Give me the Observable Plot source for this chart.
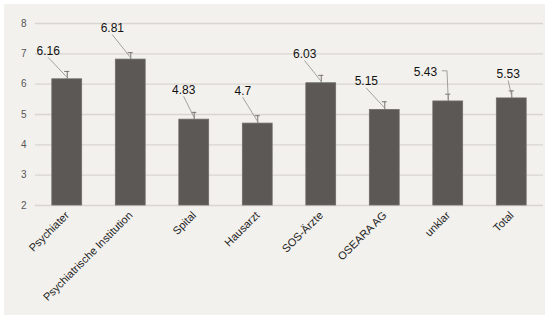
<!DOCTYPE html>
<html><head><meta charset="utf-8">
<script src="https://cdn.jsdelivr.net/npm/d3@7"></script>
<script src="https://cdn.jsdelivr.net/npm/@observablehq/plot@0.6"></script>
<style>
html,body{margin:0;padding:0;background:#fff;}
#chart{position:absolute;left:4px;top:4px;width:541px;height:311px;background:#f3f1ed;}
#chart svg{display:block;background:transparent;font-family:"Liberation Sans",Arial,sans-serif;}
</style></head>
<body><div id="chart"></div>
<script>
const categories = ["Psychiater","Psychiatrische Institution","Spital","Hausarzt","SOS-Ärzte","OSEARA AG","unklar","Total"];
const values = [6.16, 6.81, 4.83, 4.7, 6.03, 5.15, 5.43, 5.53];
const errors = [0.26, 0.23, 0.24, 0.26, 0.26, 0.27, 0.24, 0.25];
const yTicks = [2,3,4,5,6,7,8];

// label placement (layout, in scale units)
const labelDx = [-0.30, -0.29, -0.165, -0.235, -0.26, -0.29, -0.36, -0.055];
const labelY  = [7.10, 7.85, 5.81, 5.78, 6.99, 6.09, 6.41, 6.33];

const data = categories.map((c,i)=>({i, c, v: values[i], e: errors[i], lx: i+labelDx[i], ly: labelY[i]}));

const leaders = [];
data.forEach(d=>{
  if (d.c === "unklar") {
    leaders.push({z:d.i, x:d.lx+0.265, y:d.ly+0.03});
    leaders.push({z:d.i, x:d.i-0.02, y:d.ly+0.03});
    leaders.push({z:d.i, x:d.i, y:d.v+0.06});
  } else {
    leaders.push({z:d.i, x:d.lx, y:d.ly-0.22});
    leaders.push({z:d.i, x:d.i, y:d.v+0.06});
  }
});

const plot = Plot.plot({
  width: 541, height: 311,
  marginLeft: 31, marginRight: 2, marginTop: 19, marginBottom: 110,
  style: {background: "transparent", fontFamily: "Liberation Sans, Arial, sans-serif"},
  x: {type: "linear", domain: [-0.5, 7.5], ticks: categories.map((c,i)=>i), tickFormat: i => categories[i], label: null},
  y: {domain: [2, 8], ticks: yTicks, label: null},
  marks: [
    Plot.ruleY(yTicks, {stroke: "#d9d6d1", strokeWidth: 1.3}),
    Plot.rectY(data, {x1: d=>d.i-0.235, x2: d=>d.i+0.235, y1: 2, y2: "v", fill: "#5b5855", stroke: "#6f6c68", strokeWidth: 0.8}),
    Plot.ruleX(data, {x: "i", y1: "v", y2: d=>d.v+d.e, stroke: "#7a7773", strokeWidth: 1}),
    Plot.ruleY(data, {y: d=>d.v+d.e, x1: d=>d.i-0.04, x2: d=>d.i+0.04, stroke: "#7a7773", strokeWidth: 1}),
    Plot.line(leaders, {x: "x", y: "y", z: "z", stroke: "#9a9792", strokeWidth: 0.9}),
    Plot.text(data, {x: "lx", y: "ly", text: d=>String(d.v), fontSize: 12, fill: "#111", textAnchor: "middle"}),
    Plot.axisY({ticks: yTicks, tickSize: 0, tickPadding: 9, fontSize: 10, color: "#555", tickFormat: d=>d}),
    Plot.axisX({ticks: categories.map((c,i)=>i), tickFormat: i=>categories[i], tickSize: 0, tickPadding: 8, tickRotate: -45, fontSize: 11, color: "#222", label: null})
  ]
});
document.getElementById("chart").appendChild(plot);
</script></body></html>
